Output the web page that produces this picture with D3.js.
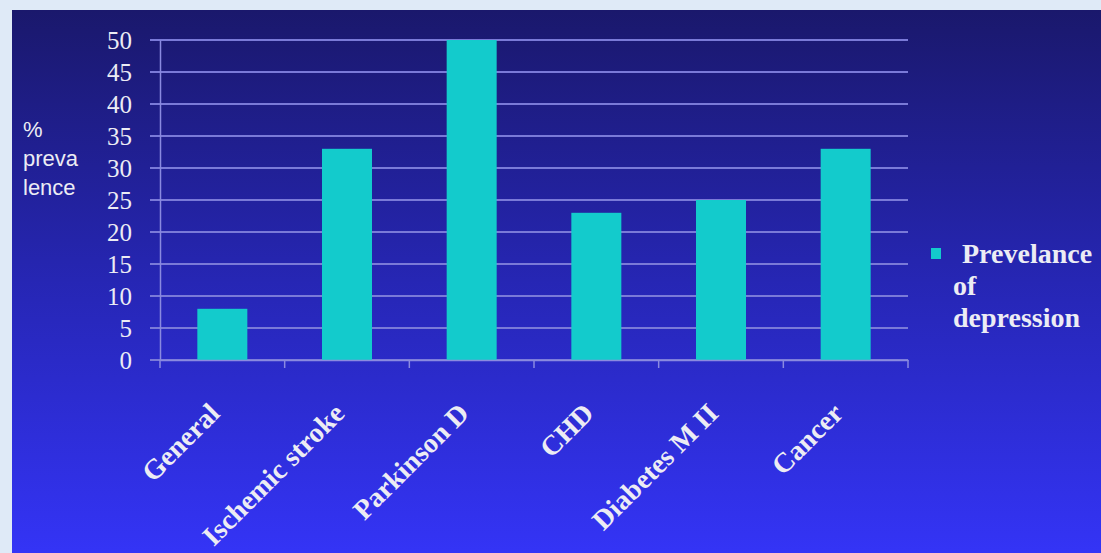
<!DOCTYPE html>
<html><head><meta charset="utf-8">
<script src="https://cdn.jsdelivr.net/npm/d3@7"></script>
<style>html,body{margin:0;padding:0;background:#dfeaf7;overflow:hidden}</style>
</head><body>
<svg id="c" width="1101" height="553"></svg>
<script>
const categories = ["General","Ischemic stroke","Parkinson D","CHD","Diabetes M II","Cancer"];
const values = [8,33,50,23,25,33];
const yTicks = [0,5,10,15,20,25,30,35,40,45,50];
const seriesName = ["Prevelance","of","depression"];
const yTitle = ["%","preva","lence"];

const svg = d3.select("#c");
const defs = svg.append("defs");
const g = defs.append("linearGradient").attr("id","bg").attr("x1",0).attr("y1",0).attr("x2",0).attr("y2",1);
g.append("stop").attr("offset","0").attr("stop-color","#1a186c");
g.append("stop").attr("offset","0.5").attr("stop-color","#2626b4");
g.append("stop").attr("offset","1").attr("stop-color","#3434f6");
svg.append("rect").attr("x",12).attr("y",10).attr("width",1089).attr("height",543).attr("fill","url(#bg)");

const x = d3.scaleBand().domain(categories).range([160,908]).padding(0);
const y = d3.scaleLinear().domain([0,50]).range([360,40]);
const barW = 50;
const serif = "'Liberation Serif','Times New Roman',serif";
const txt = "#ececf4";

// gridlines
svg.append("g").selectAll("line").data(yTicks).join("line")
  .attr("x1",150).attr("x2",908).attr("y1",d=>y(d)).attr("y2",d=>y(d))
  .attr("stroke","#7a7ad8").attr("stroke-width",2);

// bars
svg.append("g").selectAll("rect").data(values).join("rect")
  .attr("x",(d,i)=>x(categories[i])+x.bandwidth()/2-barW/2)
  .attr("width",barW)
  .attr("y",d=>y(d)).attr("height",d=>y(0)-y(d))
  .attr("fill","#13cbcc");

// y axis
const yAxis = d3.axisLeft(y).tickValues(yTicks).tickSize(0).tickPadding(28);
const ya = svg.append("g").attr("transform","translate(160,0)").call(yAxis);
ya.select(".domain").attr("stroke","#8a8ae0").attr("stroke-width",1.5);
ya.selectAll("text").attr("fill",txt).attr("font-family",serif)
  .attr("font-size",25).attr("dy","0.34em");

// x axis
const xAxis = d3.axisBottom(x).tickSize(0).tickFormat("");
const xa = svg.append("g").attr("transform","translate(0,360)").call(xAxis);
xa.select(".domain").attr("stroke","#8a8ae0").attr("stroke-width",1.5);
xa.selectAll("line").remove();
svg.append("g").selectAll("line").data(d3.range(categories.length+1)).join("line")
  .attr("x1",i=>160+i*x.step()).attr("x2",i=>160+i*x.step())
  .attr("y1",360).attr("y2",368).attr("stroke","#8a8ae0").attr("stroke-width",1.5);

// x labels
svg.append("g").selectAll("text").data(categories).join("text")
  .attr("transform",d=>`translate(${x(d)+x.bandwidth()/2-1},${415}) rotate(-45)`)
  .attr("text-anchor","end")
  .attr("fill",txt).attr("font-family",serif)
  .attr("font-weight","bold").attr("font-size",28)
  .text(d=>d);

// y title
svg.append("g").selectAll("text").data(yTitle).join("text")
  .attr("x",23).attr("y",(d,i)=>137+i*29)
  .attr("fill",txt).attr("font-family","'Liberation Sans',Arial,sans-serif").attr("font-size",22)
  .text(d=>d);

// legend
svg.append("rect").attr("x",931).attr("y",248).attr("width",10).attr("height",11).attr("fill","#13cbcc");
svg.append("g").selectAll("text").data(seriesName).join("text")
  .attr("x",(d,i)=>i===0?962:953).attr("y",(d,i)=>263+i*32)
  .attr("fill",txt).attr("font-family",serif)
  .attr("font-weight","bold").attr("font-size",28)
  .text(d=>d);
</script>
</body></html>
